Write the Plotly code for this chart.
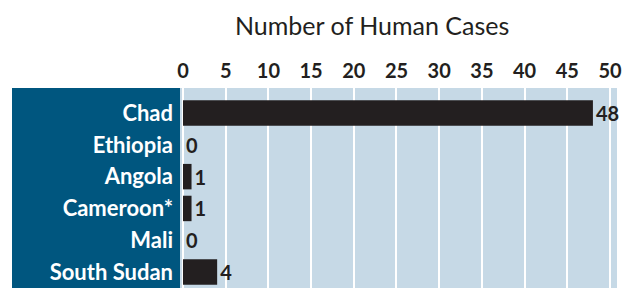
import plotly.graph_objects as go

countries = ["Chad", "Ethiopia", "Angola", "Cameroon*", "Mali", "South Sudan"]
cases = [48, 0, 1, 1, 0, 4]
tick_vals = [0, 5, 10, 15, 20, 25, 30, 35, 40, 45, 50]
tick_text = [str(v) for v in tick_vals]
axis_title = "Number of Human Cases"

W, H = 629, 288
L, R, T, B = 180, 12, 88, 0
pw = W - L - R

DARK_BLUE = "#00567f"
LIGHT_BLUE = "#c6d9e6"
BAR = "#231f20"
FONT = "Lato"

fig = go.Figure(go.Bar(
    x=cases, y=countries, orientation="h",
    marker=dict(color=BAR, line=dict(width=0)),
    width=0.8,
    text=[str(c) for c in cases], textposition="outside",
    textfont=dict(family=FONT, size=20, color=BAR, weight="bold"),
    cliponaxis=False,
))

# dark blue label panel to the left of plot area
fig.add_shape(type="rect", xref="paper", yref="paper",
              x0=(12 - L) / pw, x1=0, y0=-0.2, y1=1,
              fillcolor=DARK_BLUE, line=dict(width=0), layer="below")

# axis title, centred as in the reference
fig.add_annotation(text=axis_title, xref="paper", yref="paper",
                   x=(372 - L) / pw, y=1 + (88 - 25) / (H - T - B),
                   xanchor="center", yanchor="middle", showarrow=False,
                   font=dict(family=FONT, size=25, color=BAR))

fig.update_layout(
    width=W, height=H,
    margin=dict(l=L, r=R, t=T, b=B, autoexpand=False),
    paper_bgcolor="white", plot_bgcolor=LIGHT_BLUE,
    showlegend=False,
    bargap=0.2,
    xaxis=dict(
        side="top", range=[-0.35, 50.82], automargin=False,
        tickvals=tick_vals, ticktext=tick_text,
        tickfont=dict(family=FONT, size=20, color=BAR, weight="bold"),
        showgrid=True, gridcolor="white", gridwidth=1.5,
        zeroline=False, ticks="", ticklabelstandoff=5,
    ),
    yaxis=dict(
        categoryorder="array", categoryarray=countries,
        range=[5.5, -0.786], automargin=False,
        tickfont=dict(family=FONT, size=22, color="white", weight="bold"),
        ticks="", ticklabelstandoff=6, showgrid=False, zeroline=False,
    ),
)

fig.write_html("out.html", config={"displayModeBar": False},
               post_script="document.body.style.margin='0';document.body.style.overflow='hidden';")
